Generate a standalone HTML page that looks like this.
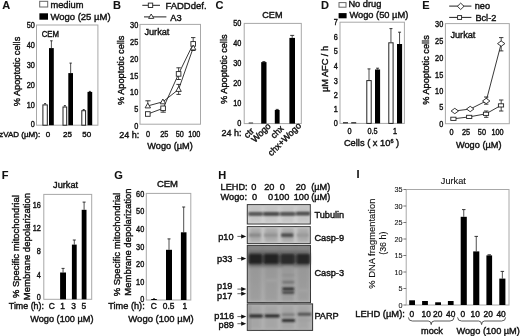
<!DOCTYPE html>
<html><head><meta charset="utf-8"><style>
html,body{margin:0;padding:0;background:#fff;width:520px;height:336px;overflow:hidden}
svg{display:block;font-family:"Liberation Sans",sans-serif;filter:blur(0.6px)}
text{stroke:#111;stroke-width:0.4px}
text.th{stroke-width:0.12px}
text[font-weight=bold]{stroke-width:0.1px}
</style></head><body>
<svg width="520" height="336" viewBox="0 0 520 336">
<text x="2.2" y="9" font-size="11" font-weight="bold" fill="#111">A</text>
<rect x="39.70" y="1.30" width="8.00" height="5.70" fill="#fff" stroke="#666" stroke-width="1"/>
<text x="50.4" y="7.6" font-size="9.3" fill="#111">medium</text>
<rect x="39.40" y="13.30" width="8.60" height="6.40" fill="#000" stroke="none" stroke-width="1"/>
<text x="50.4" y="20.0" font-size="9.5" fill="#111">Wogo (25 µM)</text>
<rect x="36.50" y="25.00" width="61.40" height="100.20" fill="none" stroke="#a8a8a8" stroke-width="1"/>
<text transform="translate(34.8,28.2) scale(0.87,1)" font-size="8.4" text-anchor="end" fill="#111">50</text>
<text transform="translate(34.8,48.199999999999996) scale(0.87,1)" font-size="8.4" text-anchor="end" fill="#111">40</text>
<text transform="translate(34.8,68.1) scale(0.87,1)" font-size="8.4" text-anchor="end" fill="#111">30</text>
<text transform="translate(34.8,88.0) scale(0.87,1)" font-size="8.4" text-anchor="end" fill="#111">20</text>
<text transform="translate(34.8,107.7) scale(0.87,1)" font-size="8.4" text-anchor="end" fill="#111">10</text>
<text transform="translate(34.8,127.2) scale(0.87,1)" font-size="8.4" text-anchor="end" fill="#111">0</text>
<text transform="translate(41.7,36.7) scale(0.94,1)" font-size="8.3" fill="#111">CEM</text>
<text transform="translate(19.6,71.5) rotate(-90)" font-size="9.2" text-anchor="middle" fill="#111">% Apoptotic cells</text>
<line x1="45.10" y1="103.60" x2="45.10" y2="104.40" stroke="#222" stroke-width="0.8"/>
<line x1="44.10" y1="103.60" x2="46.10" y2="103.60" stroke="#222" stroke-width="0.9"/>
<rect x="42.90" y="104.90" width="4.40" height="20.30" fill="#fff" stroke="#222" stroke-width="1"/>
<line x1="51.40" y1="40.80" x2="51.40" y2="48.10" stroke="#222" stroke-width="0.8"/>
<line x1="50.20" y1="40.80" x2="52.60" y2="40.80" stroke="#222" stroke-width="0.9"/>
<rect x="49.00" y="48.10" width="4.80" height="77.10" fill="#000" stroke="none" stroke-width="1"/>
<line x1="64.85" y1="105.60" x2="64.85" y2="106.50" stroke="#222" stroke-width="0.8"/>
<line x1="63.85" y1="105.60" x2="65.85" y2="105.60" stroke="#222" stroke-width="0.9"/>
<rect x="63.00" y="107.00" width="3.70" height="18.20" fill="#fff" stroke="#222" stroke-width="1"/>
<line x1="70.65" y1="63.10" x2="70.65" y2="73.10" stroke="#222" stroke-width="0.8"/>
<line x1="69.48" y1="63.10" x2="71.83" y2="63.10" stroke="#222" stroke-width="0.9"/>
<rect x="68.30" y="73.10" width="4.70" height="52.10" fill="#000" stroke="none" stroke-width="1"/>
<line x1="83.70" y1="109.50" x2="83.70" y2="110.20" stroke="#222" stroke-width="0.8"/>
<line x1="82.70" y1="109.50" x2="84.70" y2="109.50" stroke="#222" stroke-width="0.9"/>
<rect x="81.80" y="110.70" width="3.80" height="14.50" fill="#fff" stroke="#222" stroke-width="1"/>
<line x1="89.85" y1="91.40" x2="89.85" y2="91.90" stroke="#222" stroke-width="0.8"/>
<line x1="88.85" y1="91.40" x2="90.85" y2="91.40" stroke="#222" stroke-width="0.9"/>
<rect x="87.50" y="91.90" width="4.70" height="33.30" fill="#000" stroke="none" stroke-width="1"/>
<text x="-0.8" y="137.4" font-size="8.0" fill="#111">zVAD (µM):</text>
<text x="48.0" y="137.4" font-size="8.0" text-anchor="middle" fill="#111">0</text>
<text x="67.5" y="137.4" font-size="8.0" text-anchor="middle" fill="#111">25</text>
<text x="86.7" y="137.4" font-size="8.0" text-anchor="middle" fill="#111">50</text>
<text x="113.0" y="8.9" font-size="11" font-weight="bold" fill="#111">B</text>
<line x1="142.30" y1="5.30" x2="160.00" y2="5.30" stroke="#222" stroke-width="1"/>
<rect x="148.30" y="3.10" width="4.40" height="4.40" fill="#fff" stroke="#222" stroke-width="0.9"/>
<text x="165.4" y="8.8" font-size="9.5" fill="#111">FADDdef.</text>
<line x1="144.00" y1="16.90" x2="166.40" y2="16.90" stroke="#222" stroke-width="1"/>
<path d="M151.2 14.0 L153.8 18.4 L148.6 18.4 Z" fill="#fff" stroke="#222" stroke-width="0.9"/>
<text x="170.2" y="20.5" font-size="9.3" fill="#111">A3</text>
<rect x="140.00" y="24.40" width="60.50" height="99.80" fill="none" stroke="#a8a8a8" stroke-width="1"/>
<text transform="translate(138.2,28.2) scale(0.87,1)" font-size="8.4" text-anchor="end" fill="#111">30</text>
<text transform="translate(138.2,45.099999999999994) scale(0.87,1)" font-size="8.4" text-anchor="end" fill="#111">25</text>
<text transform="translate(138.2,62.0) scale(0.87,1)" font-size="8.4" text-anchor="end" fill="#111">20</text>
<text transform="translate(138.2,78.6) scale(0.87,1)" font-size="8.4" text-anchor="end" fill="#111">15</text>
<text transform="translate(138.2,95.3) scale(0.87,1)" font-size="8.4" text-anchor="end" fill="#111">10</text>
<text transform="translate(138.2,112.2) scale(0.87,1)" font-size="8.4" text-anchor="end" fill="#111">5</text>
<text transform="translate(138.2,128.8) scale(0.87,1)" font-size="8.4" text-anchor="end" fill="#111">0</text>
<text transform="translate(123.6,70.3) rotate(-90)" font-size="9.2" text-anchor="middle" fill="#111">% Apoptotic cells</text>
<text x="144.4" y="34.6" font-size="9.2" fill="#111">Jurkat</text>
<path d="M147.8 114.0 L163.1 108.3 L178.6 73.9 L193.2 43.9" fill="none" stroke="#222" stroke-width="0.9"/>
<path d="M147.8 105.9 L162.9 101.8 L178.6 89.4 L193.2 47.9" fill="none" stroke="#222" stroke-width="0.9"/>
<line x1="147.80" y1="100.80" x2="147.80" y2="104.00" stroke="#222" stroke-width="0.8"/>
<line x1="145.40" y1="100.80" x2="150.60" y2="100.80" stroke="#222" stroke-width="0.9"/>
<line x1="163.10" y1="110.00" x2="163.10" y2="112.20" stroke="#222" stroke-width="0.8"/>
<line x1="160.60" y1="112.20" x2="165.80" y2="112.20" stroke="#222" stroke-width="0.9"/>
<line x1="178.60" y1="67.80" x2="178.60" y2="79.50" stroke="#222" stroke-width="0.8"/>
<line x1="176.40" y1="67.80" x2="180.80" y2="67.80" stroke="#222" stroke-width="0.9"/>
<line x1="176.40" y1="79.50" x2="180.80" y2="79.50" stroke="#222" stroke-width="0.9"/>
<line x1="178.60" y1="84.40" x2="178.60" y2="94.40" stroke="#222" stroke-width="0.8"/>
<line x1="176.40" y1="84.40" x2="180.80" y2="84.40" stroke="#222" stroke-width="0.9"/>
<line x1="176.40" y1="94.40" x2="180.80" y2="94.40" stroke="#222" stroke-width="0.9"/>
<line x1="193.20" y1="37.60" x2="193.20" y2="50.50" stroke="#222" stroke-width="0.8"/>
<line x1="191.00" y1="37.60" x2="195.40" y2="37.60" stroke="#222" stroke-width="0.9"/>
<line x1="191.00" y1="50.50" x2="195.40" y2="50.50" stroke="#222" stroke-width="0.9"/>
<rect x="145.50" y="111.70" width="4.60" height="4.60" fill="#fff" stroke="#222" stroke-width="0.9"/>
<rect x="160.80" y="106.00" width="4.60" height="4.60" fill="#fff" stroke="#222" stroke-width="0.9"/>
<rect x="176.30" y="71.60" width="4.60" height="4.60" fill="#fff" stroke="#222" stroke-width="0.9"/>
<rect x="190.90" y="41.60" width="4.60" height="4.60" fill="#fff" stroke="#222" stroke-width="0.9"/>
<path d="M147.8 103.10000000000001 L150.5 107.9 L145.10000000000002 107.9 Z" fill="#fff" stroke="#222" stroke-width="0.9"/>
<path d="M162.9 99.0 L165.6 103.8 L160.20000000000002 103.8 Z" fill="#fff" stroke="#222" stroke-width="0.9"/>
<path d="M178.6 86.60000000000001 L181.29999999999998 91.4 L175.9 91.4 Z" fill="#fff" stroke="#222" stroke-width="0.9"/>
<path d="M193.2 45.1 L195.89999999999998 49.9 L190.5 49.9 Z" fill="#fff" stroke="#222" stroke-width="0.9"/>
<text x="119.3" y="138.0" font-size="9.0" fill="#111">24 h:</text>
<text transform="translate(148.0,136.7) scale(0.87,1)" font-size="8.4" text-anchor="middle" fill="#111">0</text>
<text transform="translate(164.2,136.7) scale(0.87,1)" font-size="8.4" text-anchor="middle" fill="#111">25</text>
<text transform="translate(179.8,136.7) scale(0.87,1)" font-size="8.4" text-anchor="middle" fill="#111">50</text>
<text transform="translate(194.3,136.7) scale(0.87,1)" font-size="8.4" text-anchor="middle" fill="#111">100</text>
<text x="147.3" y="149.4" font-size="9.2" fill="#111">Wogo (µM)</text>
<text x="215.4" y="9.4" font-size="11" font-weight="bold" fill="#111">C</text>
<text x="272.4" y="18.3" font-size="9.1" text-anchor="middle" fill="#111">CEM</text>
<rect x="244.20" y="23.40" width="57.10" height="100.20" fill="none" stroke="#a8a8a8" stroke-width="1"/>
<text transform="translate(241.4,26.400000000000002) scale(0.87,1)" font-size="8.4" text-anchor="end" fill="#111">50</text>
<text transform="translate(241.4,46.199999999999996) scale(0.87,1)" font-size="8.4" text-anchor="end" fill="#111">40</text>
<text transform="translate(241.4,66.0) scale(0.87,1)" font-size="8.4" text-anchor="end" fill="#111">30</text>
<text transform="translate(241.4,85.8) scale(0.87,1)" font-size="8.4" text-anchor="end" fill="#111">20</text>
<text transform="translate(241.4,106.0) scale(0.87,1)" font-size="8.4" text-anchor="end" fill="#111">10</text>
<text transform="translate(241.4,126.0) scale(0.87,1)" font-size="8.4" text-anchor="end" fill="#111">0</text>
<text transform="translate(227.2,69.2) rotate(-90)" font-size="9.2" text-anchor="middle" fill="#111">% Apoptotic cells</text>
<rect x="248.70" y="122.40" width="4.40" height="1.20" fill="#555" stroke="none" stroke-width="1"/>
<line x1="263.85" y1="61.60" x2="263.85" y2="62.10" stroke="#222" stroke-width="0.8"/>
<line x1="262.35" y1="61.60" x2="265.35" y2="61.60" stroke="#222" stroke-width="0.9"/>
<rect x="261.20" y="62.10" width="5.30" height="61.50" fill="#000" stroke="none" stroke-width="1"/>
<line x1="277.20" y1="109.40" x2="277.20" y2="110.00" stroke="#222" stroke-width="0.8"/>
<line x1="275.70" y1="109.40" x2="278.70" y2="109.40" stroke="#222" stroke-width="0.9"/>
<rect x="274.80" y="110.00" width="4.80" height="13.60" fill="#000" stroke="none" stroke-width="1"/>
<line x1="292.20" y1="35.40" x2="292.20" y2="37.90" stroke="#222" stroke-width="0.8"/>
<line x1="290.20" y1="35.40" x2="294.20" y2="35.40" stroke="#222" stroke-width="0.9"/>
<rect x="289.40" y="37.90" width="5.60" height="85.70" fill="#000" stroke="none" stroke-width="1"/>
<text x="221.6" y="136.2" font-size="9.0" fill="#111">24 h:</text>
<text transform="translate(254.6,131.6) rotate(-45)" font-size="9.0" text-anchor="end" fill="#111">ctr</text>
<text transform="translate(271.4,126.6) rotate(-45)" font-size="9.0" text-anchor="end" fill="#111">Wogo</text>
<text transform="translate(284.2,129.0) rotate(-45)" font-size="9.0" text-anchor="end" fill="#111">chx</text>
<text transform="translate(301.7,126.3) rotate(-45)" font-size="9.0" text-anchor="end" fill="#111">chx+Wogo</text>
<text x="320.9" y="8.9" font-size="11" font-weight="bold" fill="#111">D</text>
<rect x="339.00" y="2.60" width="7.00" height="4.60" fill="#fff" stroke="#666" stroke-width="1"/>
<text x="348.4" y="6.8" font-size="9.3" fill="#111">No drug</text>
<rect x="338.60" y="13.10" width="8.00" height="5.20" fill="#000" stroke="none" stroke-width="1"/>
<text x="349.4" y="17.9" font-size="9.3" fill="#111">Wogo (50 µM)</text>
<rect x="340.00" y="22.20" width="64.40" height="101.20" fill="none" stroke="#a8a8a8" stroke-width="1"/>
<text transform="translate(337.8,25.0) scale(0.87,1)" font-size="8.4" text-anchor="end" fill="#111">7</text>
<text transform="translate(337.8,40.0) scale(0.87,1)" font-size="8.4" text-anchor="end" fill="#111">6</text>
<text transform="translate(337.8,54.3) scale(0.87,1)" font-size="8.4" text-anchor="end" fill="#111">5</text>
<text transform="translate(337.8,68.7) scale(0.87,1)" font-size="8.4" text-anchor="end" fill="#111">4</text>
<text transform="translate(337.8,83.6) scale(0.87,1)" font-size="8.4" text-anchor="end" fill="#111">3</text>
<text transform="translate(337.8,97.89999999999999) scale(0.87,1)" font-size="8.4" text-anchor="end" fill="#111">2</text>
<text transform="translate(337.8,112.2) scale(0.87,1)" font-size="8.4" text-anchor="end" fill="#111">1</text>
<text transform="translate(337.8,126.2) scale(0.87,1)" font-size="8.4" text-anchor="end" fill="#111">0</text>
<text transform="translate(327.6,69.0) rotate(-90)" font-size="9.2" text-anchor="middle" fill="#111">µM AFC / h</text>
<rect x="343.00" y="122.20" width="5.00" height="1.20" fill="#222" stroke="none" stroke-width="1"/>
<rect x="351.20" y="122.20" width="5.00" height="1.20" fill="#222" stroke="none" stroke-width="1"/>
<line x1="369.00" y1="68.90" x2="369.00" y2="80.10" stroke="#222" stroke-width="0.8"/>
<line x1="367.50" y1="68.90" x2="370.50" y2="68.90" stroke="#222" stroke-width="0.9"/>
<rect x="366.80" y="80.60" width="4.40" height="42.80" fill="#fff" stroke="#222" stroke-width="1"/>
<line x1="377.55" y1="68.20" x2="377.55" y2="69.50" stroke="#222" stroke-width="0.8"/>
<line x1="376.05" y1="68.20" x2="379.05" y2="68.20" stroke="#222" stroke-width="0.9"/>
<rect x="375.00" y="69.50" width="5.10" height="53.90" fill="#000" stroke="none" stroke-width="1"/>
<line x1="390.95" y1="28.60" x2="390.95" y2="42.30" stroke="#222" stroke-width="0.8"/>
<line x1="389.45" y1="28.60" x2="392.45" y2="28.60" stroke="#222" stroke-width="0.9"/>
<rect x="388.80" y="42.80" width="4.30" height="80.60" fill="#fff" stroke="#222" stroke-width="1"/>
<line x1="399.55" y1="32.20" x2="399.55" y2="44.00" stroke="#222" stroke-width="0.8"/>
<line x1="398.05" y1="32.20" x2="401.05" y2="32.20" stroke="#222" stroke-width="0.9"/>
<rect x="397.00" y="44.00" width="5.10" height="79.40" fill="#000" stroke="none" stroke-width="1"/>
<text transform="translate(349.6,134.2) scale(0.87,1)" font-size="8.4" text-anchor="middle" fill="#111">0</text>
<text transform="translate(372.5,134.2) scale(0.87,1)" font-size="8.4" text-anchor="middle" fill="#111">0.5</text>
<text transform="translate(395.0,134.2) scale(0.87,1)" font-size="8.4" text-anchor="middle" fill="#111">1</text>
<text x="343.9" y="146.3" font-size="9.3" fill="#111">Cells ( x 10<tspan font-size="5.5" dy="-3.5">6</tspan><tspan dy="3.5"> )</tspan></text>
<text x="422.3" y="9.3" font-size="11" font-weight="bold" fill="#111">E</text>
<line x1="449.20" y1="6.10" x2="471.40" y2="6.10" stroke="#222" stroke-width="1"/>
<path d="M460.7 3.1 L464.0 6.3 L460.7 9.5 L457.4 6.3 Z" fill="#fff" stroke="#222" stroke-width="0.9"/>
<text x="474.7" y="8.5" font-size="9.2" fill="#111">neo</text>
<line x1="449.20" y1="17.40" x2="471.40" y2="17.40" stroke="#222" stroke-width="1"/>
<rect x="457.60" y="15.60" width="4.00" height="3.80" fill="#fff" stroke="#222" stroke-width="0.9"/>
<text x="475.4" y="20.6" font-size="9.2" fill="#111">Bcl-2</text>
<rect x="445.40" y="23.60" width="63.90" height="100.10" fill="none" stroke="#a8a8a8" stroke-width="1"/>
<text transform="translate(443.2,27.1) scale(0.87,1)" font-size="8.4" text-anchor="end" fill="#111">30</text>
<text transform="translate(443.2,44.4) scale(0.87,1)" font-size="8.4" text-anchor="end" fill="#111">25</text>
<text transform="translate(443.2,61.0) scale(0.87,1)" font-size="8.4" text-anchor="end" fill="#111">20</text>
<text transform="translate(443.2,77.8) scale(0.87,1)" font-size="8.4" text-anchor="end" fill="#111">15</text>
<text transform="translate(443.2,93.7) scale(0.87,1)" font-size="8.4" text-anchor="end" fill="#111">10</text>
<text transform="translate(443.2,110.3) scale(0.87,1)" font-size="8.4" text-anchor="end" fill="#111">5</text>
<text transform="translate(443.2,127.1) scale(0.87,1)" font-size="8.4" text-anchor="end" fill="#111">0</text>
<text transform="translate(428.6,70.0) rotate(-90)" font-size="9.2" text-anchor="middle" fill="#111">% Apoptotic cells</text>
<text x="450.4" y="37.6" font-size="9.2" fill="#111">Jurkat</text>
<path d="M454.8 111.0 L470.2 109.0 L486.2 101.0 L501.2 43.6" fill="none" stroke="#222" stroke-width="0.9"/>
<path d="M453.4 118.8 L469.2 116.9 L486.0 113.8 L501.0 105.4" fill="none" stroke="#222" stroke-width="0.9"/>
<line x1="486.20" y1="97.00" x2="486.20" y2="104.20" stroke="#222" stroke-width="0.8"/>
<line x1="484.00" y1="97.00" x2="488.40" y2="97.00" stroke="#222" stroke-width="0.9"/>
<line x1="484.00" y1="104.20" x2="488.40" y2="104.20" stroke="#222" stroke-width="0.9"/>
<line x1="501.20" y1="37.60" x2="501.20" y2="50.90" stroke="#222" stroke-width="0.8"/>
<line x1="499.00" y1="37.60" x2="503.40" y2="37.60" stroke="#222" stroke-width="0.9"/>
<line x1="499.00" y1="50.90" x2="503.40" y2="50.90" stroke="#222" stroke-width="0.9"/>
<line x1="486.20" y1="111.00" x2="486.20" y2="117.30" stroke="#222" stroke-width="0.8"/>
<line x1="484.00" y1="111.00" x2="488.40" y2="111.00" stroke="#222" stroke-width="0.9"/>
<line x1="484.00" y1="117.30" x2="488.40" y2="117.30" stroke="#222" stroke-width="0.9"/>
<line x1="501.20" y1="100.00" x2="501.20" y2="111.00" stroke="#222" stroke-width="0.8"/>
<line x1="499.00" y1="100.00" x2="503.40" y2="100.00" stroke="#222" stroke-width="0.9"/>
<line x1="499.00" y1="111.00" x2="503.40" y2="111.00" stroke="#222" stroke-width="0.9"/>
<path d="M454.8 108.3 L458.5 111.0 L454.8 113.7 L451.1 111.0 Z" fill="#fff" stroke="#222" stroke-width="0.9"/>
<path d="M470.2 106.3 L473.9 109.0 L470.2 111.7 L466.5 109.0 Z" fill="#fff" stroke="#222" stroke-width="0.9"/>
<path d="M486.2 98.3 L489.9 101.0 L486.2 103.7 L482.5 101.0 Z" fill="#fff" stroke="#222" stroke-width="0.9"/>
<path d="M501.2 40.9 L504.9 43.6 L501.2 46.300000000000004 L497.5 43.6 Z" fill="#fff" stroke="#222" stroke-width="0.9"/>
<rect x="450.80" y="117.20" width="5.20" height="3.20" fill="#fff" stroke="#222" stroke-width="0.9"/>
<rect x="466.60" y="115.30" width="5.20" height="3.20" fill="#fff" stroke="#222" stroke-width="0.9"/>
<rect x="483.40" y="112.20" width="5.20" height="3.20" fill="#fff" stroke="#222" stroke-width="0.9"/>
<rect x="498.40" y="103.80" width="5.20" height="3.20" fill="#fff" stroke="#222" stroke-width="0.9"/>
<text transform="translate(451.6,134.6) scale(0.87,1)" font-size="8.4" text-anchor="middle" fill="#111">0</text>
<text transform="translate(466.0,134.6) scale(0.87,1)" font-size="8.4" text-anchor="middle" fill="#111">25</text>
<text transform="translate(481.9,134.6) scale(0.87,1)" font-size="8.4" text-anchor="middle" fill="#111">50</text>
<text transform="translate(497.5,134.6) scale(0.87,1)" font-size="8.4" text-anchor="middle" fill="#111">100</text>
<text x="456.0" y="148.2" font-size="9.2" fill="#111">Wogo (µM)</text>
<text x="1.7" y="178.5" font-size="11" font-weight="bold" fill="#111">F</text>
<text x="53.1" y="188.3" font-size="9.2" fill="#111">Jurkat</text>
<rect x="43.80" y="194.40" width="47.90" height="104.90" fill="none" stroke="#a8a8a8" stroke-width="1"/>
<text transform="translate(40.8,208.4) scale(0.87,1)" font-size="8.4" text-anchor="end" fill="#111">16</text>
<text transform="translate(40.8,231.3) scale(0.87,1)" font-size="8.4" text-anchor="end" fill="#111">12</text>
<text transform="translate(40.8,254.3) scale(0.87,1)" font-size="8.4" text-anchor="end" fill="#111">8</text>
<text transform="translate(40.8,278.2) scale(0.87,1)" font-size="8.4" text-anchor="end" fill="#111">4</text>
<text transform="translate(40.8,300.40000000000003) scale(0.87,1)" font-size="8.4" text-anchor="end" fill="#111">0</text>
<text transform="translate(19.0,246.6) rotate(-90)" font-size="9.45" text-anchor="middle" fill="#111">% Specific mitochondrial</text>
<text transform="translate(30.1,246.6) rotate(-90)" font-size="9.5" text-anchor="middle" fill="#111">Membrane depolarization</text>
<line x1="63.05" y1="268.40" x2="63.05" y2="272.50" stroke="#222" stroke-width="0.8"/>
<line x1="61.55" y1="268.40" x2="64.55" y2="268.40" stroke="#222" stroke-width="0.9"/>
<rect x="60.10" y="272.50" width="5.90" height="26.80" fill="#000" stroke="none" stroke-width="1"/>
<line x1="74.30" y1="240.00" x2="74.30" y2="244.60" stroke="#222" stroke-width="0.8"/>
<line x1="72.80" y1="240.00" x2="75.80" y2="240.00" stroke="#222" stroke-width="0.9"/>
<rect x="71.90" y="244.60" width="4.80" height="54.70" fill="#000" stroke="none" stroke-width="1"/>
<line x1="84.10" y1="202.10" x2="84.10" y2="209.80" stroke="#222" stroke-width="0.8"/>
<line x1="82.60" y1="202.10" x2="85.60" y2="202.10" stroke="#222" stroke-width="0.9"/>
<rect x="81.70" y="209.80" width="4.80" height="89.50" fill="#000" stroke="none" stroke-width="1"/>
<text x="8.8" y="308.6" font-size="8.9" fill="#111">Time (h):</text>
<text x="51.8" y="309.0" font-size="8.4" text-anchor="middle" fill="#111">C</text>
<text x="62.7" y="309.0" font-size="8.4" text-anchor="middle" fill="#111">1</text>
<text x="73.7" y="309.0" font-size="8.4" text-anchor="middle" fill="#111">3</text>
<text x="83.9" y="309.0" font-size="8.4" text-anchor="middle" fill="#111">5</text>
<text x="30.2" y="321.8" font-size="9.2" fill="#111">Wogo (100 µM)</text>
<text x="114.2" y="179.2" font-size="11" font-weight="bold" fill="#111">G</text>
<text x="156.9" y="187.2" font-size="9.5" fill="#111">CEM</text>
<rect x="146.30" y="193.40" width="44.50" height="106.60" fill="none" stroke="#a8a8a8" stroke-width="1"/>
<text transform="translate(144.2,196.5) scale(0.87,1)" font-size="8.4" text-anchor="end" fill="#111">60</text>
<text transform="translate(144.2,214.20000000000002) scale(0.87,1)" font-size="8.4" text-anchor="end" fill="#111">50</text>
<text transform="translate(144.2,232.0) scale(0.87,1)" font-size="8.4" text-anchor="end" fill="#111">40</text>
<text transform="translate(144.2,249.5) scale(0.87,1)" font-size="8.4" text-anchor="end" fill="#111">30</text>
<text transform="translate(144.2,267.1) scale(0.87,1)" font-size="8.4" text-anchor="end" fill="#111">20</text>
<text transform="translate(144.2,284.7) scale(0.87,1)" font-size="8.4" text-anchor="end" fill="#111">10</text>
<text transform="translate(144.2,302.2) scale(0.87,1)" font-size="8.4" text-anchor="end" fill="#111">0</text>
<text transform="translate(120.4,244.6) rotate(-90)" font-size="9.5" text-anchor="middle" fill="#111">% Specific mitochondrial</text>
<text transform="translate(131.2,242.1) rotate(-90)" font-size="9.5" text-anchor="middle" fill="#111">Membrane depolarization</text>
<line x1="154.00" y1="298.80" x2="154.00" y2="299.00" stroke="#222" stroke-width="0.8"/>
<line x1="153.00" y1="298.80" x2="155.00" y2="298.80" stroke="#222" stroke-width="0.9"/>
<rect x="151.20" y="299.00" width="5.60" height="1.00" fill="#000" stroke="none" stroke-width="1"/>
<line x1="169.00" y1="238.90" x2="169.00" y2="249.80" stroke="#222" stroke-width="0.8"/>
<line x1="167.50" y1="238.90" x2="170.50" y2="238.90" stroke="#222" stroke-width="0.9"/>
<rect x="166.00" y="249.80" width="6.00" height="50.20" fill="#000" stroke="none" stroke-width="1"/>
<line x1="183.70" y1="207.00" x2="183.70" y2="232.30" stroke="#222" stroke-width="0.8"/>
<line x1="182.20" y1="207.00" x2="185.20" y2="207.00" stroke="#222" stroke-width="0.9"/>
<rect x="180.90" y="232.30" width="5.60" height="67.70" fill="#000" stroke="none" stroke-width="1"/>
<text x="108.3" y="308.5" font-size="9.2" fill="#111">Time (h):</text>
<text x="153.8" y="309.0" font-size="8.4" text-anchor="middle" fill="#111">C</text>
<text x="168.6" y="309.0" font-size="8.4" text-anchor="middle" fill="#111">0.5</text>
<text x="184.8" y="309.0" font-size="8.4" text-anchor="middle" fill="#111">1</text>
<text x="128.3" y="321.9" font-size="9.5" fill="#111">Wogo (100 µM)</text>
<text x="218.2" y="178.9" font-size="11" font-weight="bold" fill="#111">H</text>
<text x="220.6" y="190.0" font-size="9.2" fill="#111">LEHD:</text>
<text x="251.2" y="190.0" font-size="9.2" fill="#111">0</text>
<text x="264.2" y="190.0" font-size="9.2" fill="#111">20</text>
<text x="279.7" y="190.0" font-size="9.2" fill="#111">0</text>
<text x="295.7" y="190.0" font-size="9.2" fill="#111">20</text>
<text x="311.2" y="190.0" font-size="9.2" fill="#111">(µM)</text>
<text x="220.6" y="200.2" font-size="9.2" fill="#111">Wogo:</text>
<text x="251.9" y="200.2" font-size="9.2" fill="#111">0</text>
<text x="268.1" y="200.2" font-size="9.2" fill="#111">0</text>
<text x="274.0" y="200.2" font-size="9.2" fill="#111">100</text>
<text x="293.7" y="200.2" font-size="9.2" fill="#111">100</text>
<text x="311.2" y="200.2" font-size="9.2" fill="#111">(µM)</text>
<defs>
<linearGradient id="g3" x1="0" y1="0" x2="0" y2="1">
<stop offset="0" stop-color="#828282"/><stop offset="0.14" stop-color="#888"/><stop offset="0.4" stop-color="#a4a4a4"/><stop offset="1" stop-color="#b0b0b0"/></linearGradient>
<linearGradient id="gt" x1="0" y1="0" x2="0" y2="1">
<stop offset="0" stop-color="#cacaca"/><stop offset="0.5" stop-color="#d2d2d2"/><stop offset="1" stop-color="#d6d6d6"/></linearGradient>
<filter id="bl" x="-20%" y="-80%" width="140%" height="260%"><feGaussianBlur stdDeviation="0.8"/></filter>
<filter id="bl2" x="-20%" y="-50%" width="140%" height="200%"><feGaussianBlur stdDeviation="1.2"/></filter>
<filter id="bl3" x="-20%" y="-20%" width="140%" height="140%"><feGaussianBlur stdDeviation="1.6"/></filter>
</defs>
<rect x="247.30" y="204.60" width="63.00" height="19.40" fill="url(#gt)" stroke="#333" stroke-width="1"/>
<rect x="249.6" y="206" width="11.599999999999994" height="16.5" fill="#b8b8b8" opacity="0.5" filter="url(#bl3)"/>
<rect x="264.6" y="206" width="13.199999999999989" height="16.5" fill="#b8b8b8" opacity="0.5" filter="url(#bl3)"/>
<rect x="281.6" y="206" width="12.199999999999989" height="16.5" fill="#b8b8b8" opacity="0.5" filter="url(#bl3)"/>
<rect x="297.4" y="206" width="11.600000000000023" height="16.5" fill="#b8b8b8" opacity="0.5" filter="url(#bl3)"/>
<rect x="248.5" y="212.8" width="61.0" height="2.3999999999999773" fill="#707070" opacity="1" filter="url(#bl)"/>
<rect x="248.6" y="212.4" width="13.599999999999994" height="3.0" fill="#4e4e4e" opacity="1" filter="url(#bl)"/>
<rect x="263.6" y="212.4" width="15.199999999999989" height="3.0" fill="#404040" opacity="1" filter="url(#bl)"/>
<rect x="280.6" y="212.4" width="14.199999999999989" height="3.0" fill="#4c4c4c" opacity="1" filter="url(#bl)"/>
<rect x="296.4" y="211.9" width="13.600000000000023" height="3.0" fill="#4a4a4a" opacity="1" filter="url(#bl)"/>
<rect x="247.30" y="226.60" width="63.00" height="17.00" fill="#cbcbcb" stroke="#333" stroke-width="1"/>
<rect x="249.6" y="228" width="11.599999999999994" height="14" fill="#a0a0a0" opacity="0.75" filter="url(#bl3)"/>
<rect x="264.6" y="228" width="13.199999999999989" height="14" fill="#a0a0a0" opacity="0.75" filter="url(#bl3)"/>
<rect x="281.6" y="228" width="12.199999999999989" height="14" fill="#a0a0a0" opacity="0.75" filter="url(#bl3)"/>
<rect x="297.4" y="228" width="11.600000000000023" height="14" fill="#a0a0a0" opacity="0.75" filter="url(#bl3)"/>
<rect x="249.1" y="233.4" width="11.599999999999994" height="3.5" fill="#888" opacity="1" filter="url(#bl)"/>
<rect x="264.1" y="233.4" width="13.199999999999989" height="3.5" fill="#939393" opacity="1" filter="url(#bl)"/>
<rect x="281.1" y="233.4" width="12.199999999999989" height="3.5" fill="#464646" opacity="1" filter="url(#bl)"/>
<rect x="296.9" y="233.4" width="11.600000000000023" height="3.5" fill="#999" opacity="1" filter="url(#bl)"/>
<rect x="247.30" y="245.40" width="63.20" height="57.20" fill="url(#g3)" stroke="#333" stroke-width="1"/>
<rect x="249.6" y="247" width="11.599999999999994" height="54" fill="#8a8a8a" opacity="0.45" filter="url(#bl3)"/>
<rect x="264.6" y="247" width="13.199999999999989" height="54" fill="#8a8a8a" opacity="0.45" filter="url(#bl3)"/>
<rect x="281.6" y="247" width="12.199999999999989" height="54" fill="#8a8a8a" opacity="0.45" filter="url(#bl3)"/>
<rect x="297.4" y="247" width="11.600000000000023" height="54" fill="#8a8a8a" opacity="0.45" filter="url(#bl3)"/>
<rect x="248.5" y="250.5" width="61.0" height="16.5" fill="#5a5a5a" opacity="0.6" filter="url(#bl3)"/>
<rect x="248.5" y="255.0" width="61.0" height="8.0" fill="#4c4c4c" opacity="1" filter="url(#bl2)"/>
<rect x="249.1" y="253.9" width="12.599999999999994" height="9.999999999999972" fill="#222" opacity="1" filter="url(#bl2)"/>
<rect x="264.1" y="253.9" width="14.199999999999989" height="9.999999999999972" fill="#222" opacity="1" filter="url(#bl2)"/>
<rect x="281.1" y="253.9" width="13.199999999999989" height="9.999999999999972" fill="#2a2a2a" opacity="1" filter="url(#bl2)"/>
<rect x="296.9" y="253.9" width="12.600000000000023" height="9.999999999999972" fill="#262626" opacity="1" filter="url(#bl2)"/>
<rect x="283" y="266" width="10.5" height="17" fill="#9a9a9a" opacity="0.6" filter="url(#bl2)"/>
<rect x="282.4" y="274.3" width="11.800000000000011" height="1.599999999999966" fill="#8c8c8c" opacity="1" filter="url(#bl)"/>
<rect x="282.4" y="281.2" width="11.800000000000011" height="2.0" fill="#6a6a6a" opacity="1" filter="url(#bl)"/>
<rect x="282.4" y="287.6" width="11.800000000000011" height="2.599999999999966" fill="#262626" opacity="1" filter="url(#bl)"/>
<rect x="282.4" y="291.3" width="11.800000000000011" height="2.3000000000000114" fill="#363636" opacity="1" filter="url(#bl)"/>
<rect x="265" y="279" width="13" height="3" fill="#a4a4a4" opacity="0.8" filter="url(#bl2)"/>
<rect x="297" y="289" width="12" height="3" fill="#a4a4a4" opacity="0.8" filter="url(#bl2)"/>
<rect x="247.30" y="303.90" width="65.30" height="26.50" fill="#b2b2b2" stroke="#333" stroke-width="1"/>
<rect x="248" y="305" width="3" height="25" fill="#8a8a8a" opacity="0.6" filter="url(#bl2)"/>
<rect x="249.6" y="305.5" width="11.599999999999994" height="23.5" fill="#9a9a9a" opacity="0.5" filter="url(#bl3)"/>
<rect x="264.6" y="305.5" width="13.199999999999989" height="23.5" fill="#9a9a9a" opacity="0.5" filter="url(#bl3)"/>
<rect x="281.6" y="305.5" width="12.199999999999989" height="23.5" fill="#9a9a9a" opacity="0.5" filter="url(#bl3)"/>
<rect x="297.4" y="305.5" width="11.600000000000023" height="23.5" fill="#9a9a9a" opacity="0.5" filter="url(#bl3)"/>
<rect x="249.4" y="314.6" width="13.400000000000006" height="2.7999999999999545" fill="#1e1e1e" opacity="1" filter="url(#bl)"/>
<rect x="264.8" y="314.5" width="14.800000000000011" height="2.8000000000000114" fill="#1e1e1e" opacity="1" filter="url(#bl)"/>
<rect x="282.0" y="313.4" width="12.600000000000023" height="2.6000000000000227" fill="#7a7a7a" opacity="1" filter="url(#bl)"/>
<rect x="282.0" y="319.2" width="13.0" height="2.6000000000000227" fill="#1e1e1e" opacity="1" filter="url(#bl)"/>
<rect x="297.8" y="312.8" width="13.599999999999966" height="2.8000000000000114" fill="#4a4a4a" opacity="1" filter="url(#bl)"/>
<rect x="297.8" y="319.2" width="13.199999999999989" height="2.0" fill="#a0a0a0" opacity="1" filter="url(#bl)"/>
<text x="314.4" y="218.0" font-size="9.2" fill="#111">Tubulin</text>
<text x="314.4" y="241.2" font-size="9.2" fill="#111">Casp-9</text>
<text x="314.4" y="276.0" font-size="9.2" fill="#111">Casp-3</text>
<text x="314.4" y="318.6" font-size="9.2" fill="#111">PARP</text>
<text x="218.2" y="239.7" font-size="9.2" fill="#111">p10</text>
<line x1="237.40" y1="236.40" x2="242.20" y2="236.40" stroke="#555" stroke-width="0.9"/>
<path d="M246.2 236.4 L241.2 234.3 L241.2 238.5 Z" fill="#111" stroke="none" stroke-width="1"/>
<text x="217.1" y="261.9" font-size="9.2" fill="#111">p33</text>
<line x1="237.40" y1="258.60" x2="242.20" y2="258.60" stroke="#555" stroke-width="0.9"/>
<path d="M246.2 258.6 L241.2 256.5 L241.2 260.70000000000005 Z" fill="#111" stroke="none" stroke-width="1"/>
<text x="217.1" y="289.4" font-size="9.2" fill="#111">p19</text>
<line x1="237.40" y1="289.10" x2="242.20" y2="289.10" stroke="#555" stroke-width="0.9"/>
<path d="M246.2 289.1 L241.2 287.0 L241.2 291.20000000000005 Z" fill="#111" stroke="none" stroke-width="1"/>
<text x="217.1" y="299.0" font-size="9.2" fill="#111">p17</text>
<line x1="237.40" y1="293.70" x2="242.20" y2="293.70" stroke="#555" stroke-width="0.9"/>
<path d="M246.2 293.7 L241.2 291.59999999999997 L241.2 295.8 Z" fill="#111" stroke="none" stroke-width="1"/>
<text x="214.3" y="319.0" font-size="9.2" fill="#111">p116</text>
<line x1="237.40" y1="316.60" x2="242.20" y2="316.60" stroke="#555" stroke-width="0.9"/>
<path d="M246.2 316.6 L241.2 314.5 L241.2 318.70000000000005 Z" fill="#111" stroke="none" stroke-width="1"/>
<text x="218.6" y="327.6" font-size="9.2" fill="#111">p89</text>
<line x1="237.40" y1="323.70" x2="242.20" y2="323.70" stroke="#555" stroke-width="0.9"/>
<path d="M246.2 323.7 L241.2 321.59999999999997 L241.2 325.8 Z" fill="#111" stroke="none" stroke-width="1"/>
<text x="356.6" y="178.1" font-size="11" font-weight="bold" fill="#111">I</text>
<text x="453.3" y="183.9" font-size="9.2" text-anchor="middle" fill="#111" class="th">Jurkat</text>
<rect x="406.20" y="189.50" width="102.80" height="115.50" fill="none" stroke="#a8a8a8" stroke-width="1"/>
<line x1="403.40" y1="305.00" x2="406.20" y2="305.00" stroke="#555" stroke-width="0.8"/>
<text transform="translate(402.6,307.7) scale(0.93,1)" font-size="7.8" text-anchor="end" fill="#222" class="th">0</text>
<line x1="403.40" y1="288.50" x2="406.20" y2="288.50" stroke="#555" stroke-width="0.8"/>
<text transform="translate(402.6,291.2) scale(0.93,1)" font-size="7.8" text-anchor="end" fill="#222" class="th">5</text>
<line x1="403.40" y1="272.00" x2="406.20" y2="272.00" stroke="#555" stroke-width="0.8"/>
<text transform="translate(402.6,274.7) scale(0.93,1)" font-size="7.8" text-anchor="end" fill="#222" class="th">10</text>
<line x1="403.40" y1="255.50" x2="406.20" y2="255.50" stroke="#555" stroke-width="0.8"/>
<text transform="translate(402.6,258.2) scale(0.93,1)" font-size="7.8" text-anchor="end" fill="#222" class="th">15</text>
<line x1="403.40" y1="239.00" x2="406.20" y2="239.00" stroke="#555" stroke-width="0.8"/>
<text transform="translate(402.6,241.7) scale(0.93,1)" font-size="7.8" text-anchor="end" fill="#222" class="th">20</text>
<line x1="403.40" y1="222.50" x2="406.20" y2="222.50" stroke="#555" stroke-width="0.8"/>
<text transform="translate(402.6,225.2) scale(0.93,1)" font-size="7.8" text-anchor="end" fill="#222" class="th">25</text>
<line x1="403.40" y1="206.00" x2="406.20" y2="206.00" stroke="#555" stroke-width="0.8"/>
<text transform="translate(402.6,208.7) scale(0.93,1)" font-size="7.8" text-anchor="end" fill="#222" class="th">30</text>
<line x1="403.40" y1="189.50" x2="406.20" y2="189.50" stroke="#555" stroke-width="0.8"/>
<text transform="translate(402.6,192.2) scale(0.93,1)" font-size="7.8" text-anchor="end" fill="#222" class="th">35</text>
<text transform="translate(374.8,243.7) rotate(-90)" font-size="9.4" text-anchor="middle" fill="#111" class="th">% DNA fragmentation</text>
<text transform="translate(385.9,243.2) rotate(-90)" font-size="8.9" text-anchor="middle" fill="#111" class="th">(36 h)</text>
<rect x="409.20" y="300.30" width="5.80" height="4.70" fill="#000" stroke="none" stroke-width="1"/>
<rect x="422.10" y="301.00" width="5.80" height="4.00" fill="#000" stroke="none" stroke-width="1"/>
<rect x="435.20" y="302.30" width="5.80" height="2.70" fill="#000" stroke="none" stroke-width="1"/>
<rect x="447.90" y="301.00" width="5.70" height="4.00" fill="#000" stroke="none" stroke-width="1"/>
<line x1="463.75" y1="209.60" x2="463.75" y2="216.80" stroke="#222" stroke-width="0.8"/>
<line x1="462.00" y1="209.60" x2="465.50" y2="209.60" stroke="#222" stroke-width="0.9"/>
<rect x="460.70" y="216.80" width="6.10" height="88.20" fill="#000" stroke="none" stroke-width="1"/>
<line x1="476.25" y1="236.40" x2="476.25" y2="251.40" stroke="#222" stroke-width="0.8"/>
<line x1="474.50" y1="236.40" x2="478.00" y2="236.40" stroke="#222" stroke-width="0.9"/>
<rect x="473.20" y="251.40" width="6.10" height="53.60" fill="#000" stroke="none" stroke-width="1"/>
<line x1="489.25" y1="254.80" x2="489.25" y2="255.40" stroke="#222" stroke-width="0.8"/>
<line x1="487.50" y1="254.80" x2="491.00" y2="254.80" stroke="#222" stroke-width="0.9"/>
<rect x="486.40" y="255.40" width="5.70" height="49.60" fill="#000" stroke="none" stroke-width="1"/>
<line x1="502.35" y1="271.40" x2="502.35" y2="278.60" stroke="#222" stroke-width="0.8"/>
<line x1="500.60" y1="271.40" x2="504.10" y2="271.40" stroke="#222" stroke-width="0.9"/>
<rect x="499.30" y="278.60" width="6.10" height="26.40" fill="#000" stroke="none" stroke-width="1"/>
<text x="355.2" y="316.6" font-size="9.4" fill="#111">LEHD (µM):</text>
<text x="411.8" y="317.2" font-size="8.4" text-anchor="middle" fill="#111">0</text>
<text x="426.2" y="317.2" font-size="8.4" text-anchor="middle" fill="#111">10</text>
<text x="437.7" y="317.2" font-size="8.4" text-anchor="middle" fill="#111">20</text>
<text x="450.7" y="317.2" font-size="8.4" text-anchor="middle" fill="#111">40</text>
<text x="462.8" y="317.2" font-size="8.4" text-anchor="middle" fill="#111">0</text>
<text x="475.2" y="317.2" font-size="8.4" text-anchor="middle" fill="#111">10</text>
<text x="488.2" y="317.2" font-size="8.4" text-anchor="middle" fill="#111">20</text>
<text x="501.1" y="317.2" font-size="8.4" text-anchor="middle" fill="#111">40</text>
<path d="M408.4 317.4 Q408.4 321.0 412.4 321.0 L428.2 321.0 Q431.2 321.0 431.2 324.6 Q431.2 321.0 434.2 321.0 L450.0 321.0 Q454.0 321.0 454.0 317.4" fill="none" stroke="#333" stroke-width="0.8"/>
<path d="M457.6 317.4 Q457.6 321.0 461.6 321.0 L478.6 321.0 Q481.6 321.0 481.6 324.6 Q481.6 321.0 484.6 321.0 L501.6 321.0 Q505.6 321.0 505.6 317.4" fill="none" stroke="#333" stroke-width="0.8"/>
<text x="432.0" y="333.6" font-size="9.2" text-anchor="middle" fill="#111">mock</text>
<text x="456.5" y="333.6" font-size="9.2" fill="#111">Wogo (100 µM)</text>
</svg>
</body></html>
